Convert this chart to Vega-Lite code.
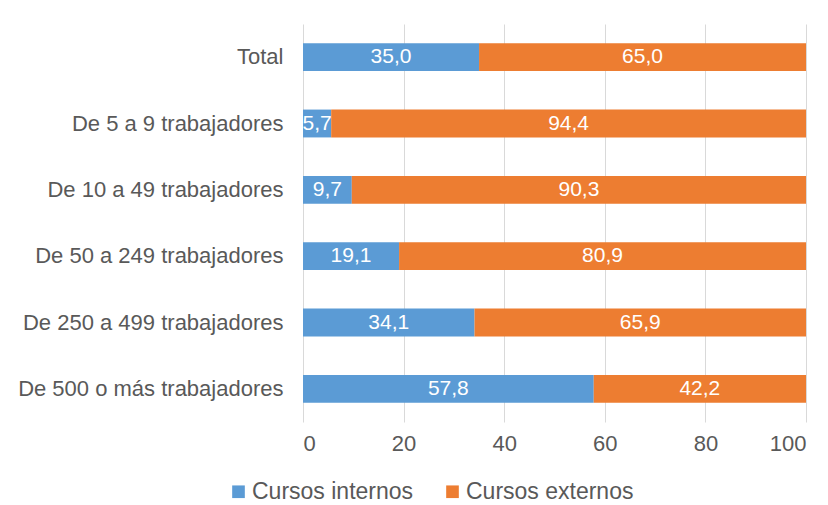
{
  "$schema": "https://vega.github.io/schema/vega-lite/v6.json",
  "width": 503,
  "height": 398,
  "autosize": "none",
  "padding": {"left": 303, "top": 24, "right": 22, "bottom": 83},
  "background": "white",
  "config": {"view": {"stroke": null}, "font": "Liberation Sans"},
  "data": {"values": [
    {"cat": "Total", "serie": "Cursos internos", "orden": 1, "valor": 35.0, "etiqueta": "35,0"},
    {"cat": "Total", "serie": "Cursos externos", "orden": 2, "valor": 65.0, "etiqueta": "65,0"},
    {"cat": "De 5 a 9 trabajadores", "serie": "Cursos internos", "orden": 1, "valor": 5.6, "etiqueta": "5,7"},
    {"cat": "De 5 a 9 trabajadores", "serie": "Cursos externos", "orden": 2, "valor": 94.4, "etiqueta": "94,4"},
    {"cat": "De 10 a 49 trabajadores", "serie": "Cursos internos", "orden": 1, "valor": 9.7, "etiqueta": "9,7"},
    {"cat": "De 10 a 49 trabajadores", "serie": "Cursos externos", "orden": 2, "valor": 90.3, "etiqueta": "90,3"},
    {"cat": "De 50 a 249 trabajadores", "serie": "Cursos internos", "orden": 1, "valor": 19.1, "etiqueta": "19,1"},
    {"cat": "De 50 a 249 trabajadores", "serie": "Cursos externos", "orden": 2, "valor": 80.9, "etiqueta": "80,9"},
    {"cat": "De 250 a 499 trabajadores", "serie": "Cursos internos", "orden": 1, "valor": 34.1, "etiqueta": "34,1"},
    {"cat": "De 250 a 499 trabajadores", "serie": "Cursos externos", "orden": 2, "valor": 65.9, "etiqueta": "65,9"},
    {"cat": "De 500 o más trabajadores", "serie": "Cursos internos", "orden": 1, "valor": 57.8, "etiqueta": "57,8"},
    {"cat": "De 500 o más trabajadores", "serie": "Cursos externos", "orden": 2, "valor": 42.2, "etiqueta": "42,2"}
  ]},
  "transform": [
    {"stack": "valor", "groupby": ["cat"], "sort": [{"field": "orden", "order": "ascending"}], "as": ["x0", "x1"]}
  ],
  "encoding": {
    "y": {
      "field": "cat", "type": "nominal",
      "sort": ["Total", "De 5 a 9 trabajadores", "De 10 a 49 trabajadores", "De 50 a 249 trabajadores", "De 250 a 499 trabajadores", "De 500 o más trabajadores"],
      "scale": {"paddingInner": 0.58, "paddingOuter": 0.29},
      "axis": {"title": null, "ticks": false, "domain": false, "labelFontSize": 22, "labelColor": "#595959", "labelPadding": 20, "labelLimit": 300}
    }
  },
  "layer": [
    {
      "mark": {"type": "bar"},
      "encoding": {
        "x": {"field": "x0", "type": "quantitative",
          "scale": {"domain": [0, 100], "nice": false},
          "axis": {"title": null, "values": [0, 20, 40, 60, 80, 100], "labelFontSize": 22, "labelColor": "#595959", "labelPadding": 11, "ticks": false, "domain": false, "gridColor": "#d9d9d9", "gridWidth": 1}},
        "x2": {"field": "x1"},
        "color": {
          "field": "serie", "type": "nominal",
          "scale": {"domain": ["Cursos internos", "Cursos externos"], "range": ["#5b9bd5", "#ed7d31"]},
          "legend": {"title": null, "orient": "none", "direction": "horizontal", "legendX": -76, "legendY": 456, "symbolType": "square", "symbolSize": 160, "symbolStrokeWidth": 0, "labelFontSize": 23, "labelLimit": 300, "labelColor": "#595959", "columnPadding": 27, "labelOffset": 2}
        }
      }
    },
    {
      "transform": [{"fold": ["x0", "x1"], "as": ["extremo", "pos"]}],
      "mark": {"type": "text", "color": "white", "fontSize": 21, "baseline": "middle", "align": "center"},
      "encoding": {
        "x": {"field": "pos", "aggregate": "mean", "type": "quantitative"},
        "text": {"field": "etiqueta", "type": "nominal"}
      }
    }
  ]
}
